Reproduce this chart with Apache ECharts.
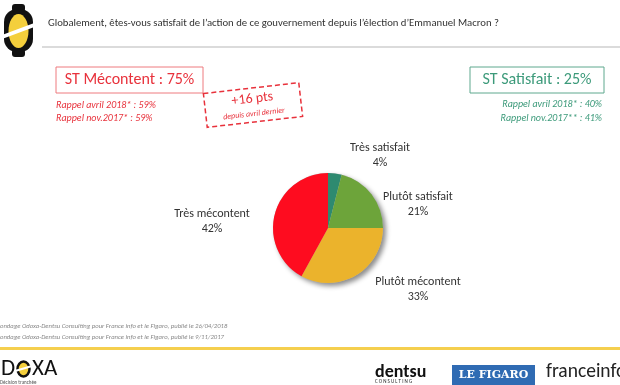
<!DOCTYPE html>
<html><head><meta charset="utf-8">
<script src="https://cdn.jsdelivr.net/npm/echarts@6/dist/echarts.min.js"></script>
<style>html,body{margin:0;padding:0;background:#fff;overflow:hidden}#c{width:620px;height:385px}</style>
</head><body><div id="c"></div>
<script>
const categories = ['Très satisfait', 'Plutôt satisfait', 'Plutôt mécontent', 'Très mécontent'];
const values = [4, 21, 33, 42];
const sliceColors = ['#2E8A70', '#6DA43A', '#EBB32C', '#FE0C1F'];
const title = 'Globalement, êtes-vous satisfait de l’action de ce gouvernement depuis l’élection d’Emmanuel Macron ?';
const mecontentTotal = 'ST Mécontent : 75%';
const satisfaitTotal = 'ST Satisfait : 25%';
const mecontentRappels = ['Rappel avril 2018* : 59%', 'Rappel nov.2017* : 59%'];
const satisfaitRappels = ['Rappel avril 2018* : 40%', 'Rappel nov.2017** : 41%'];
const evolution = ['+16 pts', 'depuis avril dernier'];
const footnotes = ['ondage Odoxa-Dentsu Consulting pour France info et le Figaro, publié le 26/04/2018',
                   'ondage Odoxa-Dentsu Consulting pour France info et le Figaro, publié le 9/11/2017'];

const FONT = "Carlito, 'Liberation Sans Narrow', 'Open Sans', sans-serif";
const RED = '#E8323C', GREEN = '#3C9A7A';
// label anchor positions (layout only)
const labelPos = [[380, 155], [418, 204], [418, 289], [212, 221]];

const chart = echarts.init(document.getElementById('c'), null, {renderer: 'canvas'});
const pieCenter = [328, 228], pieR = 55;

chart.setOption({
  animation: false,
  backgroundColor: '#fff',
  series: [
    {
      type: 'pie', silent: true, center: pieCenter, radius: pieR, z: 1,
      label: {show: false}, labelLine: {show: false},
      itemStyle: {color: '#bbb', shadowBlur: 5, shadowOffsetX: 3, shadowOffsetY: 3, shadowColor: 'rgba(0,0,0,0.45)'},
      data: [{value: 1}]
    },
    {
      type: 'pie', silent: true, center: pieCenter, radius: pieR, startAngle: 90, clockwise: true, z: 2,
      itemStyle: {borderWidth: 0},
      label: {
        show: true, position: 'outside', formatter: '{b}\n{c}%', color: '#333',
        fontFamily: FONT, fontSize: 12, lineHeight: 15, align: 'center'
      },
      labelLine: {show: false},
      labelLayout: function (p) {
        const pos = labelPos[p.dataIndex];
        return {x: pos[0], y: pos[1], align: 'center', verticalAlign: 'middle'};
      },
      data: categories.map((n, i) => ({name: n, value: values[i], itemStyle: {color: sliceColors[i]}}))
    }
  ],
  graphic: [
    // top-left logo
    {type: 'rect', shape: {x: 4, y: 9, width: 29, height: 43, r: 13}, style: {fill: '#111'}},
    {type: 'rect', shape: {x: 12, y: 4, width: 13, height: 8, r: 3}, style: {fill: '#111'}},
    {type: 'rect', shape: {x: 12, y: 49, width: 13, height: 8, r: 3}, style: {fill: '#111'}},
    {type: 'ellipse', shape: {cx: 18.5, cy: 31, rx: 10, ry: 17}, style: {fill: '#F4CF3C'}},
    {type: 'line', shape: {x1: 2, y1: 37, x2: 37, y2: 24}, style: {stroke: '#fff', lineWidth: 4}},
    // title
    {type: 'text', x: 48, y: 23, style: {text: title, font: '10.7px ' + FONT, fill: '#333', verticalAlign: 'middle'}},
    {type: 'line', shape: {x1: 42, y1: 47, x2: 620, y2: 47}, style: {stroke: '#cfcfcf', lineWidth: 1.5}},
    // mecontent box
    {type: 'rect', shape: {x: 56, y: 67, width: 147, height: 26}, style: {fill: 'none', stroke: '#EE7B7E', lineWidth: 1}},
    {type: 'text', x: 129.5, y: 80, style: {text: mecontentTotal, font: '16px ' + FONT, fill: RED, align: 'center', verticalAlign: 'middle'}},
    {type: 'text', x: 56, y: 105, style: {text: mecontentRappels[0], font: 'italic 10px ' + FONT, fill: RED, verticalAlign: 'middle'}},
    {type: 'text', x: 56, y: 118.5, style: {text: mecontentRappels[1], font: 'italic 10px ' + FONT, fill: RED, verticalAlign: 'middle'}},
    // dashed evolution box
    {type: 'group', x: 253, y: 105, rotation: 6.5 * Math.PI / 180, children: [
      {type: 'rect', shape: {x: -48, y: -17, width: 96, height: 34}, style: {fill: '#fff', stroke: RED, lineWidth: 1.5, lineDash: [5, 3]}},
      {type: 'text', x: 0, y: -6, style: {text: evolution[0], font: '14px ' + FONT, fill: RED, align: 'center', verticalAlign: 'middle'}},
      {type: 'text', x: 0, y: 9, style: {text: evolution[1], font: 'italic 8px ' + FONT, fill: RED, align: 'center', verticalAlign: 'middle'}}
    ]},
    // satisfait box
    {type: 'rect', shape: {x: 470, y: 67, width: 134, height: 26}, style: {fill: 'none', stroke: '#5FA88E', lineWidth: 1}},
    {type: 'text', x: 537, y: 80, style: {text: satisfaitTotal, font: '16px ' + FONT, fill: GREEN, align: 'center', verticalAlign: 'middle'}},
    {type: 'text', x: 602, y: 104, style: {text: satisfaitRappels[0], font: 'italic 10px ' + FONT, fill: GREEN, align: 'right', verticalAlign: 'middle'}},
    {type: 'text', x: 602, y: 118.5, style: {text: satisfaitRappels[1], font: 'italic 10px ' + FONT, fill: GREEN, align: 'right', verticalAlign: 'middle'}},
    // footnotes
    {type: 'text', x: 0, y: 326, style: {text: footnotes[0], font: 'italic 6.7px ' + FONT, fill: '#888', verticalAlign: 'middle'}},
    {type: 'text', x: 0, y: 337.5, style: {text: footnotes[1], font: 'italic 6.7px ' + FONT, fill: '#888', verticalAlign: 'middle'}},
    {type: 'line', shape: {x1: 0, y1: 348.5, x2: 620, y2: 348.5}, style: {stroke: '#F5CF4E', lineWidth: 3}},
    // ODOXA logo
    {type: 'text', x: 1, y: 369, style: {text: 'D', font: '23px ' + FONT, fill: '#111', verticalAlign: 'middle'}},
    {type: 'ellipse', shape: {cx: 23.5, cy: 369, rx: 6, ry: 7.5}, style: {fill: '#F4CF3C', stroke: '#111', lineWidth: 2.5}},
    {type: 'line', shape: {x1: 15, y1: 371, x2: 32, y2: 366}, style: {stroke: '#fff', lineWidth: 2}},
    {type: 'text', x: 32, y: 369, style: {text: 'XA', font: '23px ' + FONT, fill: '#111', verticalAlign: 'middle'}},
    {type: 'text', x: 0, y: 383, style: {text: 'Décision tranchée', font: '5px ' + FONT, fill: '#555', verticalAlign: 'middle'}},
    // dentsu
    {type: 'text', x: 375, y: 372, style: {text: 'dentsu', font: 'bold 18px ' + FONT, fill: '#111', verticalAlign: 'middle'}},
    {type: 'text', x: 375, y: 382, style: {text: 'C O N S U L T I N G', font: '5px ' + FONT, fill: '#222', verticalAlign: 'middle'}},
    // le figaro
    {type: 'rect', shape: {x: 452, y: 365, width: 83, height: 20}, style: {fill: '#2F6BB3'}},
    {type: 'text', x: 493.5, y: 375, style: {text: 'LE FIGARO', font: 'bold 11px "DejaVu Serif", "Liberation Serif", serif', fill: '#fff', align: 'center', verticalAlign: 'middle'}},
    // franceinfo
    {type: 'text', x: 546, y: 372, style: {text: 'franceinfo', font: '19.5px ' + FONT, fill: '#222', verticalAlign: 'middle'}}
  ]
});
</script></body></html>
